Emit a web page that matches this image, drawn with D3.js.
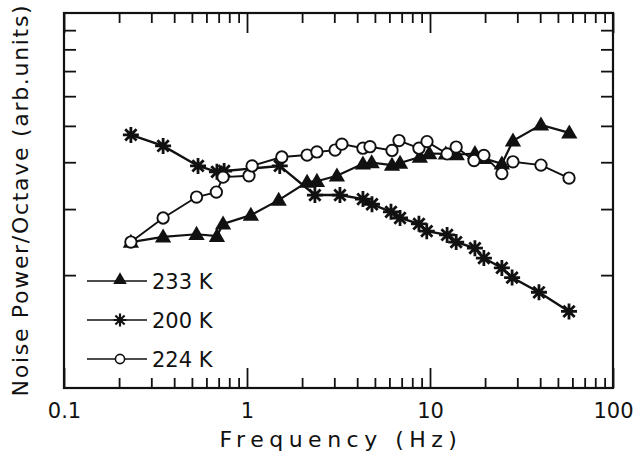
<!DOCTYPE html>
<html>
<head>
<meta charset="utf-8">
<script src="https://cdn.jsdelivr.net/npm/d3@7/dist/d3.min.js"></script>
<style>
  html, body { margin: 0; padding: 0; background: #fff; }
  svg { display: block; }
  text { font-family: "DejaVu Sans", sans-serif; fill: #111; }
</style>
</head>
<body>
<svg id="chart" width="634" height="457"></svg>
<script>
// ---- data ----
const freq233 = [0.232, 0.348, 0.53, 0.685, 0.74, 1.05, 1.49, 2.13, 2.41, 3.1, 4.3, 4.8, 6.2, 6.86, 8.8, 9.9, 12.2, 14.0, 17.6, 19.7, 24.7, 28.4, 40.4, 57.7];
const val233  = [2.45, 2.53, 2.57, 2.54, 2.74, 2.89, 3.17, 3.54, 3.56, 3.68, 3.96, 3.99, 3.93, 3.98, 4.13, 4.22, 4.21, 4.19, 4.22, 4.10, 3.96, 4.56, 5.03, 4.79];

const freq200 = [0.232, 0.348, 0.54, 0.685, 0.75, 1.51, 2.35, 3.22, 4.3, 4.82, 6.12, 6.86, 8.7, 9.6, 12.4, 13.9, 17.6, 19.7, 24.7, 28.1, 39.4, 57.5];
const val200  = [4.73, 4.42, 3.91, 3.77, 3.79, 3.91, 3.27, 3.27, 3.19, 3.09, 2.95, 2.84, 2.74, 2.62, 2.56, 2.45, 2.36, 2.22, 2.09, 1.97, 1.80, 1.60];

const freq224 = [0.232, 0.348, 0.53, 0.68, 0.74, 1.025, 1.066, 1.55, 2.13, 2.41, 3.03, 3.3, 4.3, 4.7, 6.2, 6.77, 8.7, 9.63, 12.4, 13.9, 17.4, 19.7, 24.7, 28.4, 40.4, 57.5];
const val224  = [2.45, 2.84, 3.23, 3.33, 3.65, 3.68, 3.91, 4.13, 4.18, 4.26, 4.31, 4.47, 4.36, 4.40, 4.30, 4.57, 4.36, 4.54, 4.21, 4.39, 4.04, 4.17, 3.73, 4.01, 3.93, 3.63];

const xMajorTicks = [0.1, 1, 10, 100];
const xTickLabels = ["0.1", "1", "10", "100"];
const xMinorTicks = [0.2,0.3,0.4,0.5,0.6,0.7,0.8,0.9, 2,3,4,5,6,7,8,9, 20,30,40,50,60,70,80,90];
const yMinorTicks = [2,3,4,5,6,7,8,9];
const legendLabels = ["233 K", "200 K", "224 K"];

// ---- layout ----
const svg = d3.select("#chart");
const L = 64, R = 613, T = 13, B = 388;
const x = d3.scaleLog().domain([0.1, 100]).range([L, R]);
const y = d3.scaleLog().domain([1, 10]).range([B, T]);

// axes (ticks inward)
const fmt = d => xTickLabels[xMajorTicks.indexOf(d)];
const bottomMajor = svg.append("g").attr("transform", `translate(0,${B})`)
  .call(d3.axisBottom(x).tickValues(xMajorTicks).tickSize(-20).tickSizeOuter(0).tickPadding(30).tickFormat(fmt));
bottomMajor.selectAll("text").style("font-size", "21px").attr("dy", "0");
const bottomMinor = svg.append("g").attr("transform", `translate(0,${B})`)
  .call(d3.axisBottom(x).tickValues(xMinorTicks).tickSize(-10).tickSizeOuter(0).tickFormat(""));
const topMajor = svg.append("g").attr("transform", `translate(0,${T})`)
  .call(d3.axisTop(x).tickValues(xMajorTicks).tickSize(-20).tickSizeOuter(0).tickFormat(""));
const topMinor = svg.append("g").attr("transform", `translate(0,${T})`)
  .call(d3.axisTop(x).tickValues(xMinorTicks).tickSize(-10).tickSizeOuter(0).tickFormat(""));
const leftAx = svg.append("g").attr("transform", `translate(${L},0)`)
  .call(d3.axisLeft(y).tickValues(yMinorTicks).tickSize(-12).tickSizeOuter(0).tickFormat(""));
const rightAx = svg.append("g").attr("transform", `translate(${R},0)`)
  .call(d3.axisRight(y).tickValues(yMinorTicks).tickSize(-12).tickSizeOuter(0).tickFormat(""));
svg.selectAll(".domain").remove();
svg.selectAll(".tick line").attr("stroke", "#111").attr("stroke-width", 1.8);
svg.selectAll(".tick text").attr("fill", "#111").style("font-family", "DejaVu Sans, sans-serif");

// frame
svg.append("rect").attr("x", L).attr("y", T).attr("width", R - L).attr("height", B - T)
  .attr("fill", "none").attr("stroke", "#111").attr("stroke-width", 2.2);

// axis titles
svg.append("text").attr("x", 341).attr("y", 447).attr("text-anchor", "middle")
  .style("font-size", "22px").style("letter-spacing", "5.5px").text("Frequency (Hz)");
svg.append("text").attr("transform", "rotate(-90)").attr("x", -200).attr("y", 28)
  .attr("text-anchor", "middle").style("font-size", "22px").style("letter-spacing", "1.7px")
  .text("Noise Power/Octave (arb.units)");

// markers
function starPath(r) {
  const d = r * Math.SQRT1_2;
  return `M${-r},0L${r},0M0,${-r}L0,${r}M${-d},${-d}L${d},${d}M${-d},${d}L${d},${-d}`;
}
const triSym = s => d3.symbol().type(d3.symbolTriangle).size(s)();

const line = d3.line().x(d => x(d[0])).y(d => y(d[1]));
const s233 = freq233.map((f, i) => [f, val233[i]]);
const s200 = freq200.map((f, i) => [f, val200[i]]);
const s224 = freq224.map((f, i) => [f, val224[i]]);

// 233 K triangles
svg.append("path").datum(s233).attr("d", line).attr("fill", "none").attr("stroke", "#111").attr("stroke-width", 2.2);
svg.append("g").selectAll("path").data(s233).join("path")
  .attr("transform", d => `translate(${x(d[0])},${y(d[1]) + 1})`)
  .attr("d", triSym(115)).attr("fill", "#111");

// 200 K stars
svg.append("path").datum(s200).attr("d", line).attr("fill", "none").attr("stroke", "#111").attr("stroke-width", 2.4);
svg.append("g").selectAll("path").data(s200).join("path")
  .attr("transform", d => `translate(${x(d[0])},${y(d[1])})`)
  .attr("d", starPath(8)).attr("fill", "none").attr("stroke", "#111").attr("stroke-width", 2.8);

// 224 K circles
svg.append("path").datum(s224).attr("d", line).attr("fill", "none").attr("stroke", "#111").attr("stroke-width", 1.9);
svg.append("g").selectAll("circle").data(s224).join("circle")
  .attr("cx", d => x(d[0])).attr("cy", d => y(d[1])).attr("r", 5.7)
  .attr("fill", "#fff").attr("stroke", "#111").attr("stroke-width", 1.9);

// legend
const lgX1 = 87, lgX2 = 147, lgM = 120, lgText = 152;
const rows = [281, 320, 359];
legendLabels.forEach((lab, i) => {
  const ry = rows[i];
  svg.append("line").attr("x1", lgX1).attr("x2", lgX2).attr("y1", ry).attr("y2", ry)
    .attr("stroke", "#111").attr("stroke-width", 1.5);
  if (i === 0) {
    svg.append("path").attr("transform", `translate(${lgM},${ry - 1})`).attr("d", triSym(80)).attr("fill", "#111");
  } else if (i === 1) {
    svg.append("path").attr("transform", `translate(${lgM},${ry})`).attr("d", starPath(6.5))
      .attr("fill", "none").attr("stroke", "#111").attr("stroke-width", 2.2);
  } else {
    svg.append("circle").attr("cx", lgM).attr("cy", ry).attr("r", 4.6)
      .attr("fill", "#fff").attr("stroke", "#111").attr("stroke-width", 1.6);
  }
  svg.append("text").attr("x", lgText).attr("y", ry + 8).style("font-size", "21px").text(lab);
});
</script>
</body>
</html>
